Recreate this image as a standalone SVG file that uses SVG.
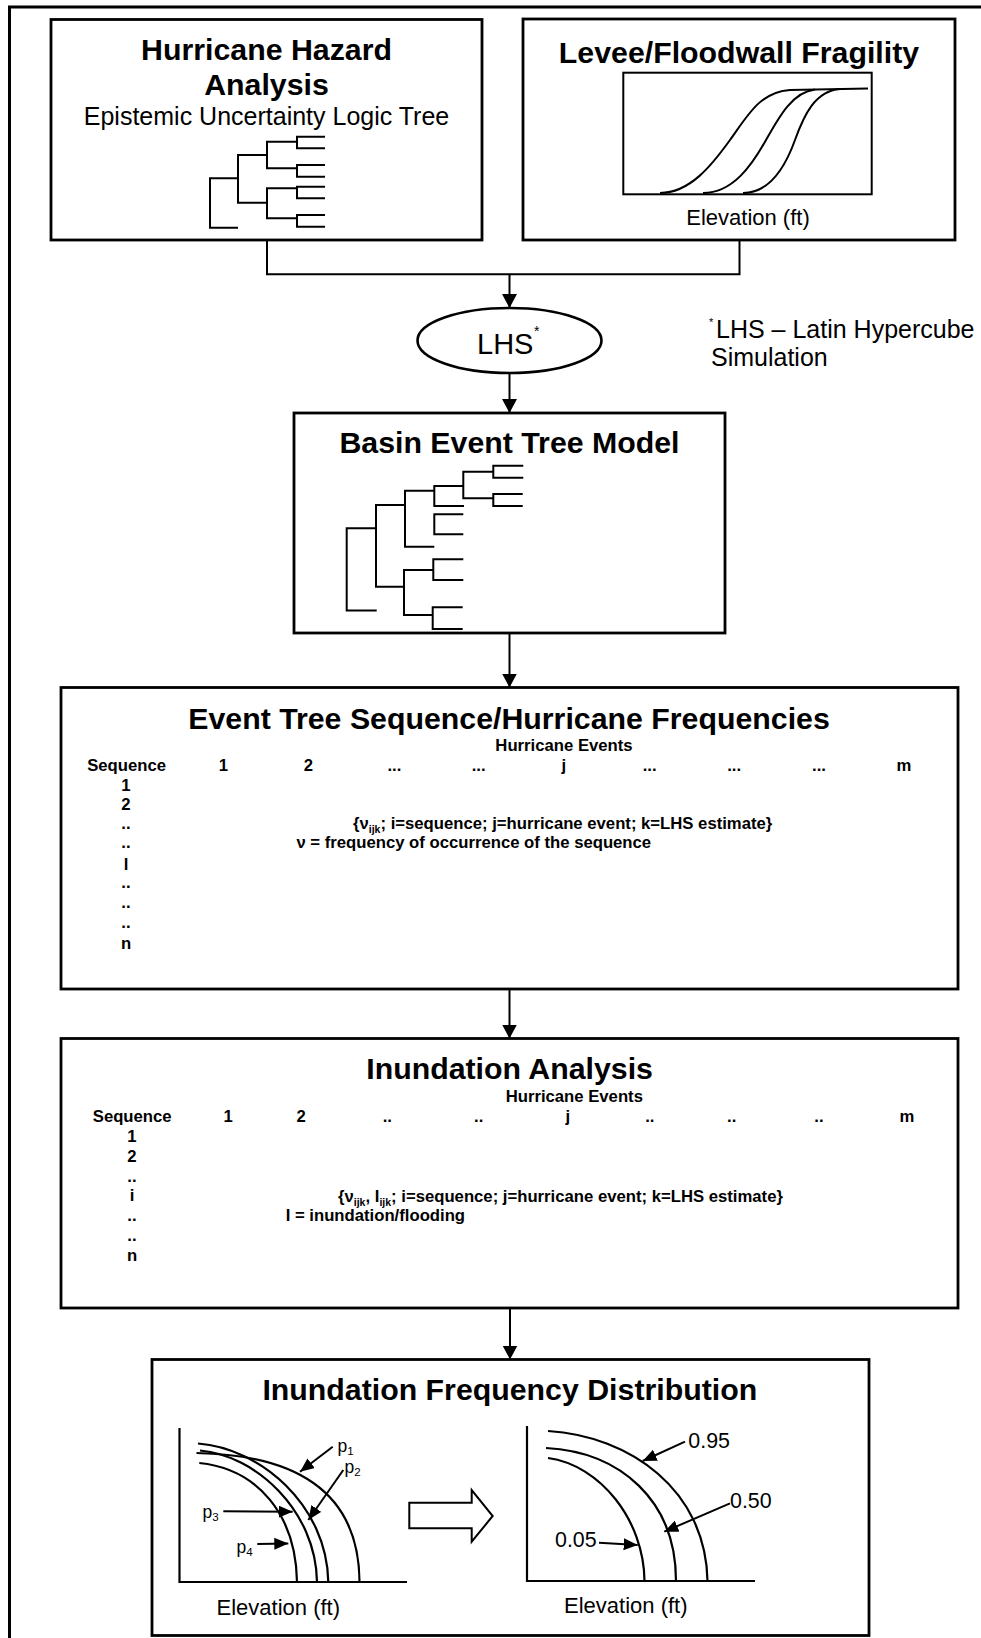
<svg xmlns="http://www.w3.org/2000/svg" width="981" height="1638" viewBox="0 0 981 1638">
<style>
.box{fill:#fff;stroke:#000;stroke-width:2.8}
.ln{fill:none;stroke:#000;stroke-width:2}
.cv{fill:none;stroke:#000;stroke-width:2.2}
text{font-family:"Liberation Sans",Arial,Helvetica,sans-serif;fill:#000}
.ttl{font-weight:bold;font-size:30.3px;text-anchor:middle}
.tb{font-weight:bold;font-size:16.7px}
.c{text-anchor:middle}
.r{font-size:25px}
.el{font-size:22px;text-anchor:middle}
.num{font-size:21.4px}
.p{font-size:17.5px}
.sub{font-size:10.5px}
.psub{font-size:11.5px}
</style>
<defs>
<marker id="ah" markerUnits="userSpaceOnUse" markerWidth="16" markerHeight="16" refX="14" refY="7.5" orient="auto"><path d="M0,0 L14,7.5 L0,15 z" fill="#000"/></marker>
<marker id="pt" markerUnits="userSpaceOnUse" markerWidth="16" markerHeight="14" refX="14" refY="6" orient="auto"><path d="M0,0 L14,6 L0,12 z" fill="#000"/></marker>
</defs>

<path d="M9.5,1640 L9.5,7 L983,7" fill="none" stroke="#000" stroke-width="3"/>

<g id="hazard">
<rect class="box" x="51" y="19.5" width="431" height="220.5"/>
<text class="ttl" x="266.5" y="60">Hurricane Hazard</text>
<text class="ttl" x="266.5" y="95">Analysis</text>
<text class="r c" x="266.5" y="125">Epistemic Uncertainty Logic Tree</text>
<path class="ln" d="M238,178.3 H210 V227.7 H238 M267,155 H238 V202.7 H267 M297,141.7 H267 V168.3 H297 M297,188.3 H267 V218.3 H297 M325,136.7 H297 V148.3 H325 M325,165 H297 V176.7 H325 M325,186.7 H297 V198.3 H325 M325,215 H297 V226.7 H325"/>
</g>

<g id="fragility">
<rect class="box" x="523" y="19" width="432" height="221"/>
<text class="ttl" x="739" y="63">Levee/Floodwall Fragility</text>
<rect x="623.3" y="72.7" width="248.4" height="121.6" fill="none" stroke="#000" stroke-width="2"/>
<path class="ln" d="M660,193 C690,193 712,165 730,140 S760,92 790,90 L868,88.5"/>
<path class="ln" d="M703,193 C733,193 752,165 766,140 S793,92 815,89.5"/>
<path class="ln" d="M743,193 C770,193 786,165 795,140 S815,91 840,89"/>
<text class="el" x="748" y="225">Elevation (ft)</text>
</g>

<g id="connectors">
<path class="ln" d="M267,240 V274.3 H739.5 V240"/>
<path class="ln" d="M509.5,274.3 V308" marker-end="url(#ah)"/>
<path class="ln" d="M509.5,373 V413" marker-end="url(#ah)"/>
<path class="ln" d="M509.5,633 V687.5" marker-end="url(#ah)"/>
<path class="ln" d="M509.5,989 V1038.5" marker-end="url(#ah)"/>
<path class="ln" d="M510,1308 V1359.5" marker-end="url(#ah)"/>
</g>

<g id="lhs">
<ellipse cx="509.5" cy="340.5" rx="92" ry="32.5" fill="#fff" stroke="#000" stroke-width="2.6"/>
<text x="477" y="354" style="font-size:29px">LHS</text>
<text x="534" y="336" style="font-size:14px">*</text>
</g>

<g id="note">
<text x="709" y="326" style="font-size:11px">*</text>
<text class="r" x="716" y="338">LHS – Latin Hypercube</text>
<text class="r" x="711" y="366">Simulation</text>
</g>

<g id="basin">
<rect class="box" x="294" y="413" width="431" height="220"/>
<text class="ttl" x="509.5" y="453">Basin Event Tree Model</text>
<path class="ln" d="M376,528.3 H346.7 V610.5 H376.7 M405,505 H376 V586.7 H405 M434.3,490.7 H405 V546.7 H434.3 M463.3,486 H434.3 V506 H464 M493.3,471.7 H463.3 V498.3 H493.3 M523.3,465.7 H493.3 V477.7 H523.3 M522.7,494 H493.3 V506 H522.7 M463.3,514.3 H434.3 V534.3 H463.3 M433.3,570 H404 V615 H433.3 M463.3,559.3 H433.3 V580 H463.3 M462.7,607.3 H432.7 V629 H462.7"/>
</g>

<g id="frequencies">
<rect class="box" x="61" y="687.5" width="897" height="301.5"/>
<text class="ttl" x="509" y="728.5">Event Tree Sequence/Hurricane Frequencies</text>
<text class="tb c" x="564" y="750.7">Hurricane Events</text>
<text class="tb c" x="126.6" y="771">Sequence</text>
<text class="tb c" x="223.4" y="771">1</text>
<text class="tb c" x="308.3" y="771">2</text>
<text class="tb c" x="394.4" y="771">...</text>
<text class="tb c" x="478.7" y="771">...</text>
<text class="tb c" x="563.7" y="771">j</text>
<text class="tb c" x="649.7" y="771">...</text>
<text class="tb c" x="734.1" y="771">...</text>
<text class="tb c" x="819" y="771">...</text>
<text class="tb c" x="903.9" y="771">m</text>
<text class="tb c" x="126" y="790.5">1</text>
<text class="tb c" x="126" y="810.3">2</text>
<text class="tb c" x="126" y="828.5">..</text>
<text class="tb c" x="126" y="848.3">..</text>
<text class="tb c" x="126" y="869.5">l</text>
<text class="tb c" x="126" y="888">..</text>
<text class="tb c" x="126" y="907.8">..</text>
<text class="tb c" x="126" y="927.5">..</text>
<text class="tb c" x="126" y="948.5">n</text>
<text class="tb" x="353" y="828.5">{ν<tspan class="sub" dy="4">ijk</tspan><tspan dy="-4">; i=sequence; j=hurricane event; k=LHS estimate}</tspan></text>
<text class="tb" x="296.4" y="848.3">ν = frequency of occurrence of the sequence</text>
</g>

<g id="inundation">
<rect class="box" x="61" y="1038.5" width="897" height="269.5"/>
<text class="ttl" x="509.6" y="1079.3">Inundation Analysis</text>
<text class="tb c" x="574.3" y="1101.7">Hurricane Events</text>
<text class="tb c" x="132.2" y="1122">Sequence</text>
<text class="tb c" x="228.1" y="1122">1</text>
<text class="tb c" x="301.2" y="1122">2</text>
<text class="tb c" x="387.3" y="1122">..</text>
<text class="tb c" x="478.7" y="1122">..</text>
<text class="tb c" x="567.8" y="1122">j</text>
<text class="tb c" x="649.8" y="1122">..</text>
<text class="tb c" x="731.7" y="1122">..</text>
<text class="tb c" x="819" y="1122">..</text>
<text class="tb c" x="906.9" y="1122">m</text>
<text class="tb c" x="132" y="1142">1</text>
<text class="tb c" x="132" y="1161.8">2</text>
<text class="tb c" x="132" y="1181.6">..</text>
<text class="tb c" x="132" y="1201.4">i</text>
<text class="tb c" x="132" y="1221.2">..</text>
<text class="tb c" x="132" y="1241">..</text>
<text class="tb c" x="132" y="1260.8">n</text>
<text class="tb" x="338" y="1201.7">{ν<tspan class="sub" dy="4">ijk</tspan><tspan dy="-4">, I</tspan><tspan class="sub" dy="4">ijk</tspan><tspan dy="-4">; i=sequence; j=hurricane event; k=LHS estimate}</tspan></text>
<text class="tb" x="285.7" y="1220.7">I = inundation/flooding</text>
</g>

<g id="distribution">
<rect class="box" x="152" y="1359.5" width="717" height="276"/>
<text class="ttl" x="509.8" y="1400">Inundation Frequency Distribution</text>
<path class="cv" d="M179.5,1428 V1582 H407"/>
<path class="cv" d="M199.3,1463 C258,1469 296,1515 297,1582"/>
<path class="cv" d="M200,1450.5 C255,1455 316,1510 317,1582"/>
<path class="cv" d="M198,1443.5 C260,1448 327,1505 328.3,1582"/>
<path class="cv" d="M196.5,1453 C300,1455 359,1495 359.5,1582"/>
<path class="ln" d="M332.7,1446.7 L300,1471.7" marker-end="url(#pt)"/>
<path class="ln" d="M343.3,1470 L308.3,1520" marker-end="url(#pt)"/>
<path class="ln" d="M223.3,1511.3 L292.7,1511.7" marker-end="url(#pt)"/>
<path class="ln" d="M257.3,1544 L288.3,1543.5" marker-end="url(#pt)"/>
<text class="p" x="337.5" y="1452">p<tspan class="psub" dy="3">1</tspan></text>
<text class="p" x="344.5" y="1472.5">p<tspan class="psub" dy="3">2</tspan></text>
<text class="p" x="202.5" y="1517.5">p<tspan class="psub" dy="3">3</tspan></text>
<text class="p" x="236.5" y="1553">p<tspan class="psub" dy="3">4</tspan></text>
<text class="el" x="278.3" y="1615">Elevation (ft)</text>
<polygon points="409.3,1502.7 471.7,1502.7 471.7,1490 492.7,1516 471.7,1541.7 471.7,1528.3 409.3,1528.3" fill="#fff" stroke="#000" stroke-width="2"/>
<path class="cv" d="M527,1426 V1581 H755"/>
<path class="cv" d="M548,1458 C600,1465 644,1520 644.5,1581"/>
<path class="cv" d="M546,1448 C620,1452 676,1500 676,1581"/>
<path class="cv" d="M548,1431 C630,1436 706,1490 707.5,1581"/>
<path class="ln" d="M685,1441.7 L642.7,1461" marker-end="url(#pt)"/>
<path class="ln" d="M730,1503.3 L664.3,1531.7" marker-end="url(#pt)"/>
<path class="ln" d="M599,1542.7 L637.7,1545" marker-end="url(#pt)"/>
<text class="num" x="688.3" y="1448.3">0.95</text>
<text class="num" x="730" y="1508.3">0.50</text>
<text class="num" x="555" y="1546.7">0.05</text>
<text class="el" x="625.8" y="1613.3">Elevation (ft)</text>
</g>
</svg>
